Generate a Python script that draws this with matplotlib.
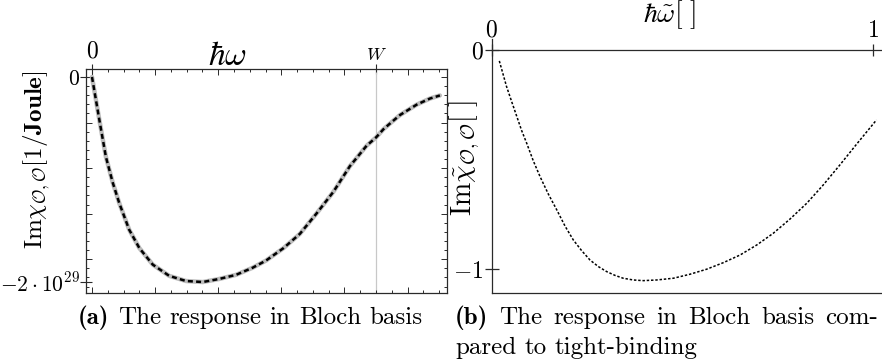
import numpy as np
import matplotlib
matplotlib.use('Agg')
import matplotlib.pyplot as plt
from matplotlib.ticker import MultipleLocator, NullFormatter

plt.rcParams['mathtext.fontset'] = 'cm'
plt.rcParams['font.family'] = 'cmr10'
plt.rcParams['axes.unicode_minus'] = False

FIG_W, FIG_H = 882, 361
AXIS_COLOR = '#2a2a2a'
TICK_SIZE = 17
CAPTION_SIZE = 18

# (a) Im chi in the Bloch basis, hbar*omega in units of W, chi in units of 1e29 / Joule
bloch_w = [0.0, 0.026, 0.049, 0.073, 0.096, 0.131, 0.167, 0.214, 0.272, 0.331,
           0.390, 0.448, 0.507, 0.566, 0.613, 0.674, 0.732, 0.791, 0.850, 0.908,
           0.967, 1.000, 1.026, 1.055, 1.085, 1.143, 1.190, 1.225]
bloch_chi = [0.0, -0.42, -0.78, -1.03, -1.23, -1.49, -1.67, -1.83, -1.94, -1.99,
             -2.00, -1.97, -1.93, -1.86, -1.79, -1.67, -1.53, -1.33, -1.12, -0.87,
             -0.67, -0.59, -0.51, -0.44, -0.37, -0.27, -0.21, -0.18]
CHI_UNIT = 1e29

# (b) dimensionless tight-binding response
tb_w = [0.020, 0.039, 0.0525, 0.066, 0.0787, 0.092, 0.109, 0.127, 0.1486, 0.171,
        0.1924, 0.214, 0.236, 0.258, 0.280, 0.302, 0.3236, 0.345, 0.3717, 0.398,
        0.433, 0.477, 0.520, 0.564, 0.608, 0.652, 0.696, 0.739, 0.783, 0.827,
        0.870, 0.914, 0.958, 1.010]
tb_chi = [-0.05, -0.167, -0.236, -0.304, -0.368, -0.426, -0.505, -0.578, -0.657, -0.73,
          -0.803, -0.866, -0.915, -0.958, -0.988, -1.011, -1.028, -1.041, -1.049, -1.052,
          -1.049, -1.041, -1.023, -1.0, -0.97, -0.935, -0.889, -0.836, -0.771, -0.699,
          -0.616, -0.524, -0.429, -0.319]

caption_a = ['(a)', 'The response in Bloch basis']
caption_b = ['(b)', 'The response in Bloch basis com-', 'pared to tight-binding']


def rect(left, top, right, bottom):
    # pixel box -> figure fraction [x0, y0, w, h]
    return [left / FIG_W, 1 - bottom / FIG_H,
            (right - left) / FIG_W, (bottom - top) / FIG_H]


def fx(x):
    return x / FIG_W


def fy(y):
    return 1 - y / FIG_H


def text_width(fig, t):
    r = fig.canvas.get_renderer()
    return t.get_window_extent(r).width


def put_line(fig, x, y, words, size, bold_first=False, right=None):
    """Place a caption line word by word; stretch the gaps if right is given."""
    texts = []
    for i, w in enumerate(words):
        fam = 'cmb10' if (bold_first and i == 0) else 'cmr10'
        texts.append(fig.text(0, fy(y), w, fontsize=size, family=fam,
                              va='center', ha='left'))
    widths = [text_width(fig, t) for t in texts]
    space = text_width(fig, fig.text(0, 0, 'a a', fontsize=size, family='cmr10', alpha=0)) \
        - text_width(fig, fig.text(0, 0, 'aa', fontsize=size, family='cmr10', alpha=0))
    if right is not None and len(words) > 1:
        space = (right - x - sum(widths)) / (len(words) - 1)
    pos = x
    for t, w in zip(texts, widths):
        t.set_x(fx(pos))
        pos += w + space


def main():
    fig = plt.figure(figsize=(FIG_W / 100, FIG_H / 100), dpi=100)

    # ---- left panel -------------------------------------------------------
    ax = fig.add_axes(rect(86, 69, 447, 293))
    ax.axvline(1.0, color='#c8c8c8', lw=0.9, zorder=1)
    chi = np.array(bloch_chi) * CHI_UNIT
    ax.plot(bloch_w, chi, color='#bdbdbd', lw=3.2, solid_capstyle='round',
            solid_joinstyle='round', zorder=2)
    ax.plot(bloch_w, chi, color='black', lw=1.8, dashes=(2.0, 1.3), zorder=3)
    ax.set_xlim(-0.0211, 1.25)
    ax.set_ylim(-2.107 * CHI_UNIT, 0.078 * CHI_UNIT)

    ax.xaxis.set_major_locator(MultipleLocator(2 / 9))
    ax.xaxis.set_minor_locator(MultipleLocator(1 / 18))
    ax.yaxis.set_major_locator(MultipleLocator(CHI_UNIT * 4 / 9))
    ax.yaxis.set_minor_locator(MultipleLocator(CHI_UNIT * 4 / 45))
    for axis in (ax.xaxis, ax.yaxis):
        axis.set_major_formatter(NullFormatter())
        axis.set_minor_formatter(NullFormatter())
    ax.tick_params(which='both', direction='in', top=True, right=True,
                   color=AXIS_COLOR, width=0.7)
    ax.tick_params(which='major', length=4.2)
    ax.tick_params(which='minor', length=2.2)
    for s in ax.spines.values():
        s.set_color(AXIS_COLOR)
        s.set_linewidth(0.9)

    top = ax.secondary_xaxis('top')
    top.set_xticks([0, 1], labels=[r'$0$', r'$W$'])
    top.tick_params(direction='inout', length=7, width=0.8, pad=1.0,
                    labelsize=TICK_SIZE, color=AXIS_COLOR)
    top.get_xticklabels()[1].set_fontsize(13)
    top.spines['top'].set_visible(False)

    left = ax.secondary_yaxis('left')
    left.set_yticks([0, -2 * CHI_UNIT], labels=[r'$0$', r'$-2\cdot10^{29}$'])
    left.tick_params(direction='inout', length=8, width=0.8, pad=0.5,
                     labelsize=15.5, color=AXIS_COLOR)
    left.spines['left'].set_visible(False)

    fig.text(fx(227), fy(56), r'$\hbar\omega$', fontsize=24, ha='center', va='center')
    fig.text(fx(37), fy(160), r'$\mathrm{Im}\chi_{\mathcal{O},\mathcal{O}}[\mathbf{1/Joule}]$',
             fontsize=18, rotation=90, ha='center', va='center')

    # ---- right panel ------------------------------------------------------
    bx = fig.add_axes(rect(491.7, 39, 882, 292.7))
    bx.plot(tb_w, tb_chi, color='black', lw=1.1, dashes=(1.6, 1.2))
    bx.set_xlim(0, 1.0244)
    bx.set_ylim(-1.107, 0.05)
    bx.spines['right'].set_visible(False)
    bx.spines['top'].set_position(('data', 0))
    for s in bx.spines.values():
        s.set_color(AXIS_COLOR)
        s.set_linewidth(0.9)
    bx.xaxis.set_ticks_position('top')
    bx.set_xticks([0, 1], labels=[r'$0$', r'$\mathbf{1}$'])
    bx.set_yticks([0, -1], labels=[r'$0$', r'$-1$'])
    bx.tick_params(direction='inout', length=10, width=0.9, pad=1.0,
                   labelsize=TICK_SIZE, color=AXIS_COLOR)
    bx.tick_params(axis='x', length=9, pad=1.5)

    fig.text(fx(670), fy(15), r'$\hbar\tilde{\omega}[\ ]$', fontsize=20,
             ha='center', va='center')
    fig.text(fx(465), fy(158), r'$\mathrm{Im}\tilde{\chi}_{\mathcal{O},\mathcal{O}}[\ ]$',
             fontsize=20, rotation=90, ha='center', va='center')

    # ---- captions ---------------------------------------------------------
    fig.canvas.draw()
    put_line(fig, 78, 318, [caption_a[0]] + caption_a[1].split(), CAPTION_SIZE,
             bold_first=True)
    put_line(fig, 455, 318, [caption_b[0]] + caption_b[1].split(), CAPTION_SIZE,
             bold_first=True, right=878)
    put_line(fig, 455, 348, caption_b[2].split(), CAPTION_SIZE)

    fig.savefig('out.png', dpi=100)


if __name__ == '__main__':
    main()
